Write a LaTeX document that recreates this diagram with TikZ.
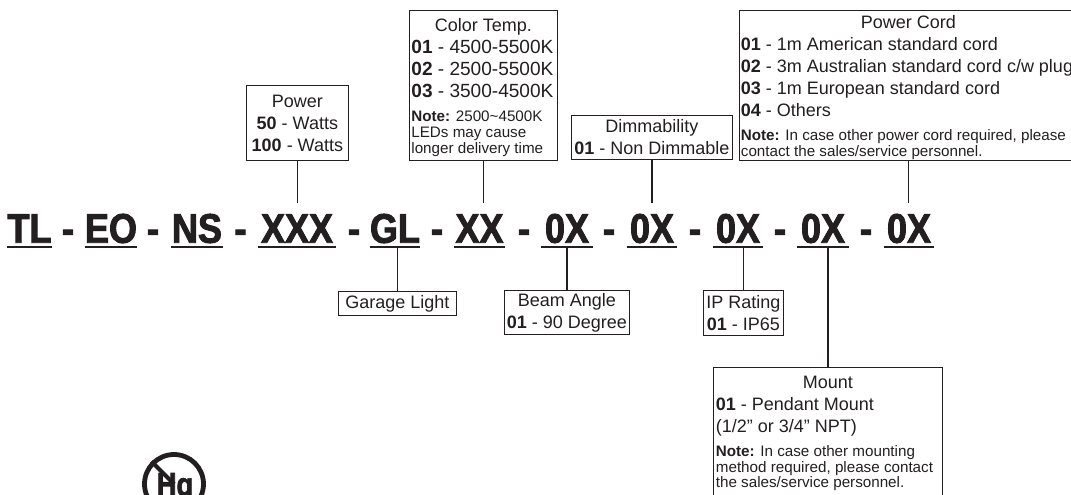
\documentclass[tikz,border=0pt]{standalone}
\usepackage{fontspec}
\setmainfont{Liberation Sans}
\newfontfamily\titlefont[FakeStretch=0.87,FakeBold=2.2]{Liberation Sans Bold}
\newfontfamily\iconfont[FakeStretch=0.82,FakeBold=2]{Liberation Sans Bold}
\definecolor{ink}{HTML}{231F20}
\newcommand{\bodyf}{\fontsize{13.5pt}{16.5pt}\selectfont}
\newcommand{\notef}{\fontsize{11.4pt}{11.7pt}\selectfont}
\newcommand{\code}[1]{\textbf{#1}}
% one paragraph per line, so that each keeps its own line spacing
\newcommand{\bl}[1]{{\bodyf\noindent #1\par}}
\newcommand{\cl}[1]{{\bodyf\centering #1\par}}
\newcommand{\nl}[1]{{\notef\noindent #1\par}}
\newcommand{\gapl}{\par\vspace{6.5pt}}
\newcommand{\toppad}{\vspace*{3pt}}
\newcommand{\boxtext}[2]{\begin{minipage}{#1\dimexpr0.75pt\relax}\parskip=0pt\relax #2\end{minipage}}
\tikzset{
  x=0.75pt,y=-0.75pt,
  pbox/.style n args={2}{draw=ink,line width=0.6pt,anchor=north west,inner sep=0pt,
    minimum width=#1*0.75pt,minimum height=#2*0.75pt,text=ink,font=\bodyf},
  token/.style={inner xsep=0pt,inner ysep=0pt,anchor=south,text=ink,
    font=\titlefont\fontsize{31pt}{33pt}\selectfont,text height=29.25pt,text depth=3pt},
  hy/.style={inner sep=0pt,anchor=base,text=ink,font=\titlefont\fontsize{31pt}{33pt}\selectfont},
  conn/.style={draw=ink,line width=1.2pt},
  ul/.style={draw=ink,line width=1.8pt}
}
\begin{document}
\begin{tikzpicture}
\useasboundingbox (0,0) rectangle (1071,494);
\clip (0,0) rectangle (1071,494);
% title tokens
\foreach \n/\t/\cx/\w in {t1/TL/29.5/43,t2/EO/111/50,t3/NS/197/52,t4/XXX/297/78,t5/GL/395/48,t6/XX/479.5/51,t7/0X/567/51,t8/0X/652/50,t9/0X/738/50,t10/0X/823/51,t11/0X/909/50}{
  \node[token,minimum width=\w*0.75pt] (\n) at (\cx,247) {\t};
  \draw[ul] (\n.south west) -- (\n.south east);
}
\foreach \i/\cx in {1/68,2/153,3/240.5,4/354,5/437,6/524,7/609,8/695,9/780,10/866}{
  \node[hy] (h\i) at (\cx,243) {-};
}
% boxes above
\node[pbox={102}{75}] (power) at (246,85) {\boxtext{100}{\cl{Power}\cl{\code{50} - Watts}\cl{\code{100} - Watts}}};
\node[pbox={148}{150}] (temp) at (409,10) {\boxtext{144}{\toppad\cl{Color Temp.}
 {\fontsize{14.3pt}{16.5pt}\selectfont\noindent\code{01} - 4500-5500K\par\noindent\code{02} - 2500-5500K\par\noindent\code{03} - 3500-4500K\par}\gapl
 \nl{\code{Note:} 2500\textasciitilde4500K}\nl{LEDs may cause}\nl{longer delivery time}}};
\node[pbox={161}{44}] (dim) at (571,115) {\boxtext{159}{\cl{Dimmability}\cl{\code{01} - Non Dimmable}}};
\node[pbox={339}{150}] (cord) at (738.5,10) {\boxtext{335}{\toppad\cl{Power Cord}\bl{\code{01} - 1m American standard cord}\bl{\code{02} - 3m Australian standard cord c/w plug}\bl{\code{03} - 1m European standard cord}\bl{\code{04} - Others}\gapl
 \nl{\code{Note:} In case other power cord required, please}\nl{contact the sales/service personnel.}}};
% boxes below
\node[pbox={118}{24}] (gar) at (338,291) {Garage Light};
\node[pbox={125}{44}] (beam) at (504,290) {\boxtext{123}{\cl{Beam Angle}\cl{\code{01} - 90 Degree}}};
\node[pbox={80}{45}] (ip) at (703,290) {\boxtext{78}{\cl{IP Rating}\cl{\code{01} - IP65}}};
\node[pbox={229}{128}] (mount) at (713,367) {\boxtext{224}{\toppad\cl{Mount}\bl{\code{01} - Pendant Mount}\bl{(1/2” or 3/4” NPT)}\gapl
 \nl{\code{Note:} In case other mounting}\nl{method required, please contact}\nl{the sales/service personnel.}}};
% connectors
\draw[conn] (power.south) -- (power.south |- t4.north);
\draw[conn] (temp.south) -- (temp.south |- t6.north);
\draw[conn] (dim.south) -- (dim.south |- t8.north);
\draw[conn] (cord.south) -- (cord.south |- t11.north);
\draw[conn] (gar.north) -- (gar.north |- t5.south);
\draw[conn] (beam.north) -- (beam.north |- t7.south);
\draw[conn] (ip.north) -- (ip.north |- t9.south);
\draw[conn] (mount.north) -- (mount.north |- t10.south);
% Hg icon
\node[circle,draw=ink,line width=3.6pt,minimum size=59*0.75pt,inner sep=0pt] (hgring) at (174,484) {};
\node[inner sep=0pt,text=ink,font=\iconfont\fontsize{25pt}{25pt}\selectfont,anchor=base] (hgtext) at (175,496) {Hg};
\draw[ink,line width=3pt] (hgring.north west) -- (hgring.center);
\end{tikzpicture}
\end{document}
